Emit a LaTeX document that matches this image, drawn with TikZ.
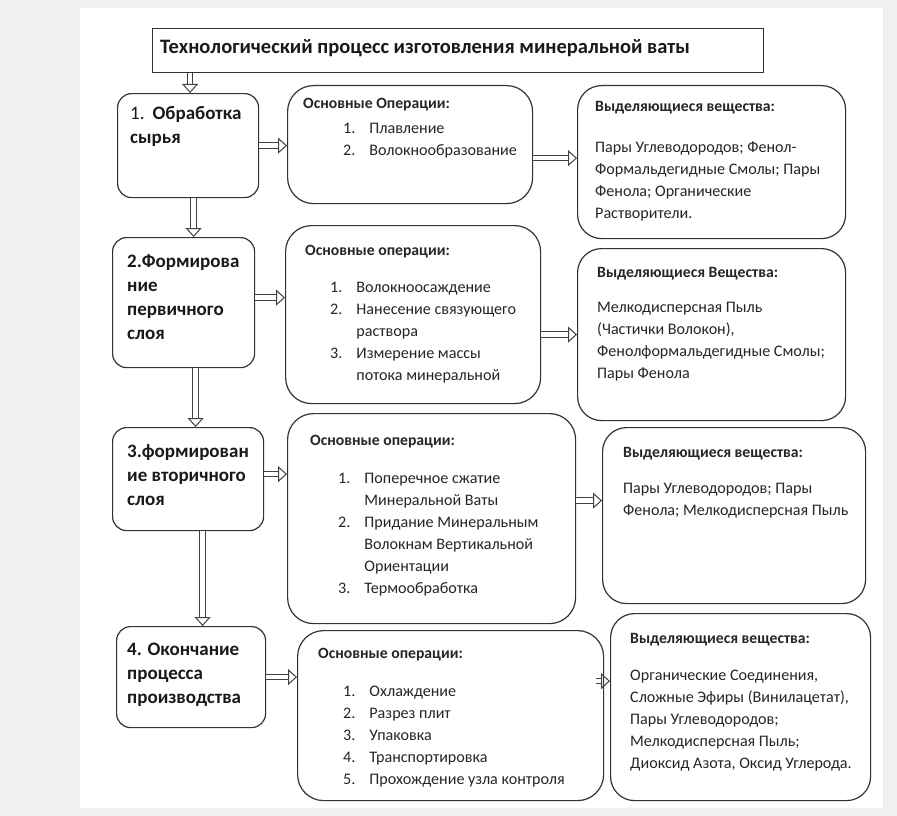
\documentclass[tikz,border=0pt]{standalone}
\usepackage{fontspec}
\setmainfont{Carlito}
\usetikzlibrary{arrows.meta}
\newcommand\txtrows[1]{\begin{tabular}[t]{@{}l@{}}#1\end{tabular}}
\newcommand\oplist[1]{\begin{tabular}[t]{@{}l@{\hspace{14pt}}l@{}}#1\end{tabular}}
\begin{document}
\begin{tikzpicture}[x=1pt, y=-1pt]
	\tikzset{
		box/.style={draw=black!80, line width=1.2pt, fill=white, rounded corners=#1, inner sep=0pt, anchor=north west},
		box/.default=14pt,
		head/.style={anchor=base west, inner sep=0pt, font=\fontsize{15.7}{22}\selectfont\bfseries, text=black!85},
		body/.style={anchor=base west, inner sep=0pt, font=\fontsize{16.1}{22}\selectfont, text=black!85},
		stage/.style={anchor=base west, inner sep=0pt, font=\fontsize{19}{24}\selectfont\bfseries, text=black!90},
		blk/.style={draw=black!75, line width=1pt, double=white, double distance=4.5pt, -{Triangle[open, length=9pt, width=16pt, line width=1pt]}},
	}
	\useasboundingbox (0,0) rectangle (897,816);
	\fill[black!6] (0,0) rectangle (897,816);
	\fill[white] (80,8) rectangle (883,808);
	
	% Title and the four stages on the left.
	\node[box=0pt, minimum width=611pt, minimum height=44pt] (title) at (152,28) {};
	\node[box, minimum width=141pt, minimum height=104pt] (st1) at (117,93) {};
	\node[box, minimum width=142pt, minimum height=130pt] (st2) at (112,237) {};
	\node[box, minimum width=151pt, minimum height=103pt] (st3) at (112,427) {};
	\node[box, minimum width=149pt, minimum height=101pt] (st4) at (116,626) {};
	
	% Operations in the middle.
	\node[box=26pt, minimum width=245pt, minimum height=118pt] (op1) at (287,85) {};
	\node[box=26pt, minimum width=255pt, minimum height=178pt] (op2) at (285,225) {};
	\node[box=26pt, minimum width=288pt, minimum height=210pt] (op3) at (287,413) {};
	\node[box=26pt, minimum width=306pt, minimum height=170pt] (op4) at (297,630) {};
	
	% Released substances on the right.
	\node[box=24pt, minimum width=268pt, minimum height=153pt] (out1) at (577,85) {};
	\node[box=24pt, minimum width=268pt, minimum height=172pt] (out2) at (577,248) {};
	\node[box=24pt, minimum width=263pt, minimum height=176pt] (out3) at (602,427) {};
	\node[box=24pt, minimum width=260pt, minimum height=187pt] (out4) at (610,613) {};
	
	% Texts.
	\node[anchor=base west, inner sep=0pt, font=\fontsize{20.5}{22}\selectfont\bfseries, text=black!90] (ttl) at (160,54) {Технологический процесс изготовления минеральной ваты};
	\node[stage] (t1) at (130,119) {\txtrows{{\mdseries 1.}\hspace{8pt}Обработка\\сырья}};
	\node[stage] (t2) at (127,267) {\txtrows{2.Формирова\\ние\\первичного\\слоя}};
	\node[stage] (t3) at (127,457) {\txtrows{3.формирован\\ие вторичного\\слоя}};
	\node[stage] (t4) at (127,655) {\txtrows{4. Окончание\\процесса\\производства}};
	
	\node[head] (h1) at (303,108) {Основные Операции:};
	\node[body] (l1) at (343,133) {\oplist{1. & Плавление\\ 2. & Волокнообразование}};
	\node[head] (h2) at (305,255) {Основные операции:};
	\node[body] (l2) at (330,292) {\oplist{1. & Волокноосаждение\\ 2. & Нанесение связующего\\ & раствора\\ 3. & Измерение массы\\ & потока минеральной}};
	\node[head] (h3) at (310,445) {Основные операции:};
	\node[body] (l3) at (338,483) {\oplist{1. & Поперечное сжатие\\ & Минеральной Ваты\\ 2. & Придание Минеральным\\ & Волокнам Вертикальной\\ & Ориентации\\ 3. & Термообработка}};
	\node[head] (h4) at (318,658) {Основные операции:};
	\node[body] (l4) at (343,696) {\oplist{1. & Охлаждение\\ 2. & Разрез плит\\ 3. & Упаковка\\ 4. & Транспортировка\\ 5. & Прохождение узла контроля}};
	
	\node[head] (g1) at (595,111) {Выделяющиеся вещества:};
	\node[body] (m1) at (595,152) {\txtrows{Пары Углеводородов; Фенол-\\Формальдегидные Смолы; Пары\\Фенола; Органические\\Растворители.}};
	\node[head] (g2) at (597,277) {Выделяющиеся Вещества:};
	\node[body] (m2) at (597,312) {\txtrows{Мелкодисперсная Пыль\\(Частички Волокон),\\Фенолформальдегидные Смолы;\\Пары Фенола}};
	\node[head] (g3) at (623,457) {Выделяющиеся вещества:};
	\node[body] (m3) at (623,493) {\txtrows{Пары Углеводородов; Пары\\Фенола; Мелкодисперсная Пыль}};
	\node[head] (g4) at (630,643) {Выделяющиеся вещества:};
	\node[body] (m4) at (630,680) {\txtrows{Органические Соединения,\\Сложные Эфиры (Винилацетат),\\Пары Углеводородов;\\Мелкодисперсная Пыль;\\Диоксид Азота, Оксид Углерода.}};
	
	% Arrows down the left column.
	\draw[blk] ([xshift=2pt]st1.north |- title.south) -- ([xshift=2pt]st1.north);
	\draw[blk] ([xshift=5.5pt]st1.south) -- ([xshift=5.5pt]st1.south |- st2.north);
	\draw[blk] ([xshift=7.5pt]st3.north |- st2.south) -- ([xshift=7.5pt]st3.north);
	\draw[blk] ([xshift=14.5pt]st3.south) -- ([xshift=14.5pt]st3.south |- st4.north);
	
	% Arrows to the operations.
	\draw[blk] (st1.east) -- (st1.east -| op1.west);
	\draw[blk] ([yshift=5pt]st2.east) -- ([yshift=5pt]st2.east -| op2.west);
	\draw[blk] ([yshift=5pt]st3.east) -- ([yshift=5pt]st3.east -| op3.west);
	\draw[blk] (st4.east) -- (st4.east -| op4.west);
	
	% Arrows to the substances.
	\draw[blk] ([yshift=4pt]op1.east |- out1.west) -- ([yshift=4pt]out1.west);
	\draw[blk] (op2.east |- out2.west) -- (out2.west);
	\draw[blk] ([yshift=15pt]op3.east |- out3.west) -- ([yshift=15pt]out3.west);
	\draw[blk] ([xshift=-8pt, yshift=26pt]op4.east |- out4.west) -- ([yshift=26pt]out4.west);
\end{tikzpicture}
\end{document}
